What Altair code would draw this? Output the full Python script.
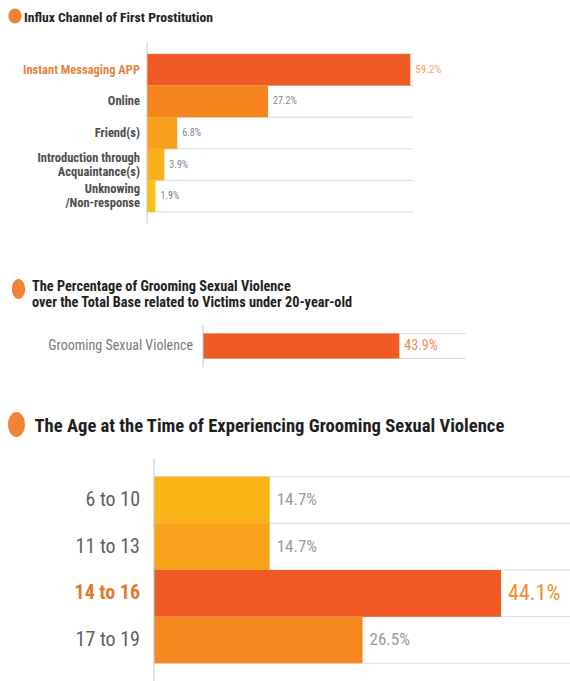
import altair as alt
import pandas as pd

FONT = "Roboto Condensed, Roboto"

# ---------------- data ----------------
title1 = "Influx Channel of First Prostitution"
channels = [
    "Instant Messaging APP",
    "Online",
    "Friend(s)",
    "Introduction through\nAcquaintance(s)",
    "Unknowing\n/Non-response",
]
channel_pct = [59.2, 27.2, 6.8, 3.9, 1.9]

title2 = "The Percentage of Grooming Sexual Violence\nover the Total Base related to Victims under 20-year-old"
grooming_cat = ["Grooming Sexual Violence"]
grooming_pct = [43.9]

title3 = "The Age at the Time of Experiencing Grooming Sexual Violence"
ages = ["6 to 10", "11 to 13", "14 to 16", "17 to 19"]
age_pct = [14.7, 14.7, 44.1, 26.5]

# ---------------- styles ----------------
channel_colors = ["#F15A24", "#F7851F", "#F7A01B", "#F8B118", "#FAC115"]
grooming_colors = ["#F15A24"]
age_colors = ["#FBB416", "#F8A31B", "#F15A24", "#F7871F"]
CIRCLE = "#F08434"
GRID = "#DADADA"
DOMAIN = "#C8C8C8"


def ellipse(r):
    k = 0.5523
    a, b = round(k * r, 4), round(r, 4)
    return (f"M0,-1C{a},-1,{b},-{k},{b},0C{b},{k},{a},1,0,1"
            f"C-{a},1,-{b},{k},-{b},0C-{b},-{k},-{a},-1,0,-1Z")


def panel(cats, vals, colors, title, *, xr, yr, xmax, pad_outer,
          lab_x, lab_size, lab_lh, lab_style, lab_hi_style, hi_lab,
          val_dx, val_size, val_color, hi, hi_val_color, hi_val_size,
          t_size, t_x, t_y, t_lh, c_x, c_y, c_h, c_ratio):
    df = pd.DataFrame({"cat": cats, "pct": vals})
    base = alt.Chart(df).transform_calculate(lbl="format(datum.pct, '.1f') + '%'")

    def xs():
        return alt.Scale(domain=[0, xmax], range=list(xr), nice=False, zero=True)

    def Y(**kw):
        return alt.Y("cat:N", sort=cats, axis=None,
                     scale=alt.Scale(type="band", domain=cats, range=list(yr),
                                     paddingInner=0, paddingOuter=pad_outer), **kw)

    X = alt.X("pct:Q", scale=xs(), axis=None)
    layers = []
    layers.append(base.mark_rule(color=GRID, strokeWidth=1).encode(
        y=Y(bandPosition=0), x=alt.value(xr[0]), x2=alt.value(xr[1])))
    layers.append(base.transform_filter(alt.datum.cat == cats[-1]).mark_rule(
        color=GRID, strokeWidth=1).encode(
        y=Y(bandPosition=1), x=alt.value(xr[0]), x2=alt.value(xr[1])))
    layers.append(base.mark_bar().encode(
        x=X, y=Y(),
        color=alt.Color("cat:N", scale=alt.Scale(domain=cats, range=colors), legend=None),
    ))
    tdf = pd.DataFrame({"t": [title]})
    layers.append(alt.Chart(tdf).mark_rule(color=DOMAIN, strokeWidth=1).encode(
        x=alt.value(xr[0]), y=alt.value(yr[0]), y2=alt.value(yr[1])))

    multi = "indexof(datum.cat, '\\n') >= 0"
    for is_hi, style in ((False, lab_style), (True, lab_hi_style)):
        for is_multi in (False, True):
            sel = [c for c in cats if (c == hi_lab) == is_hi and ("\n" in c) == is_multi]
            if not sel:
                continue
            test = ("datum.cat == '%s'" % hi_lab) if is_hi else ("datum.cat != '%s'" % hi_lab)
            test += " && " + (multi if is_multi else "!(" + multi + ")")
            layers.append(base.transform_filter(test).mark_text(
                align="right", baseline="middle", font=FONT, fontSize=lab_size,
                lineBreak="\n", lineHeight=lab_lh, dy=(-lab_lh / 2 if is_multi else 0), **style,
            ).encode(x=alt.value(lab_x), y=Y(bandPosition=0.5), text="cat:N"))

    layers.append(base.mark_text(align="left", baseline="middle", dx=val_dx, font=FONT).encode(
        x=X, y=Y(bandPosition=0.5), text="lbl:N",
        color=alt.condition(alt.datum.cat == hi, alt.value(hi_val_color), alt.value(val_color)),
        size=alt.condition(alt.datum.cat == hi, alt.value(hi_val_size), alt.value(val_size)),
    ))
    layers.append(alt.Chart(tdf).mark_text(
        align="left", baseline="middle", font=FONT, fontSize=t_size, fontWeight="bold",
        color="#1E1E1E", lineBreak="\n", lineHeight=t_lh,
    ).encode(x=alt.value(t_x), y=alt.value(t_y), text="t:N"))
    layers.append(alt.Chart(tdf).mark_point(
        shape=ellipse(c_ratio), filled=True, color=CIRCLE, opacity=1, strokeWidth=0,
    ).encode(x=alt.value(c_x), y=alt.value(c_y), size=alt.value(c_h * c_h)))
    return layers


p1 = panel(
    channels, channel_pct, channel_colors, title1,
    xr=(147, 413), yr=(42, 224), xmax=59.8, pad_outer=0.38,
    lab_x=140, lab_size=12.5, lab_lh=14,
    lab_style=dict(fontWeight="bold", color="#4D4D4D"),
    lab_hi_style=dict(fontWeight="bold", color="#E8853F"), hi_lab="Instant Messaging APP",
    val_dx=5, val_size=10, val_color="#7D879C", hi="Instant Messaging APP",
    hi_val_color="#F4A468", hi_val_size=11,
    t_size=13.7, t_x=24, t_y=18, t_lh=16, c_x=15, c_y=16, c_h=15, c_ratio=0.87,
)

p2 = panel(
    grooming_cat, grooming_pct, grooming_colors, title2,
    xr=(203, 466), yr=(325, 367), xmax=58.8, pad_outer=0.34,
    lab_x=193, lab_size=14, lab_lh=16,
    lab_style=dict(fontWeight="normal", color="#7A7A7A"),
    lab_hi_style=dict(fontWeight="normal", color="#7A7A7A"), hi_lab="",
    val_dx=5, val_size=14, val_color="#EE8A4A", hi="Grooming Sexual Violence",
    hi_val_color="#EE8A4A", hi_val_size=14,
    t_size=14.3, t_x=32, t_y=287, t_lh=16, c_x=18.5, c_y=289, c_h=20, c_ratio=0.66,
)

p3 = panel(
    ages, age_pct, age_colors, title3,
    xr=(154, 570), yr=(459, 681), xmax=52.86, pad_outer=0.38,
    lab_x=140, lab_size=20, lab_lh=22,
    lab_style=dict(fontWeight="normal", color="#5F5F5F"),
    lab_hi_style=dict(fontWeight="bold", color="#E27A2E"), hi_lab="14 to 16",
    val_dx=7, val_size=17, val_color="#9A9A9A", hi="14 to 16",
    hi_val_color="#F08C2E", hi_val_size=22,
    t_size=18.6, t_x=34.5, t_y=425.5, t_lh=22, c_x=16.5, c_y=424.5, c_h=25, c_ratio=0.68,
)

chart = alt.layer(*(p1 + p2 + p3)).resolve_scale(
    x="independent", y="independent", color="independent"
).properties(
    width=570, height=681, padding=0, background="white",
    autosize=alt.AutoSizeParams(type="none"),
).configure_view(strokeWidth=0)

chart.save("out.html", embed_options={"renderer": "svg", "actions": False})
